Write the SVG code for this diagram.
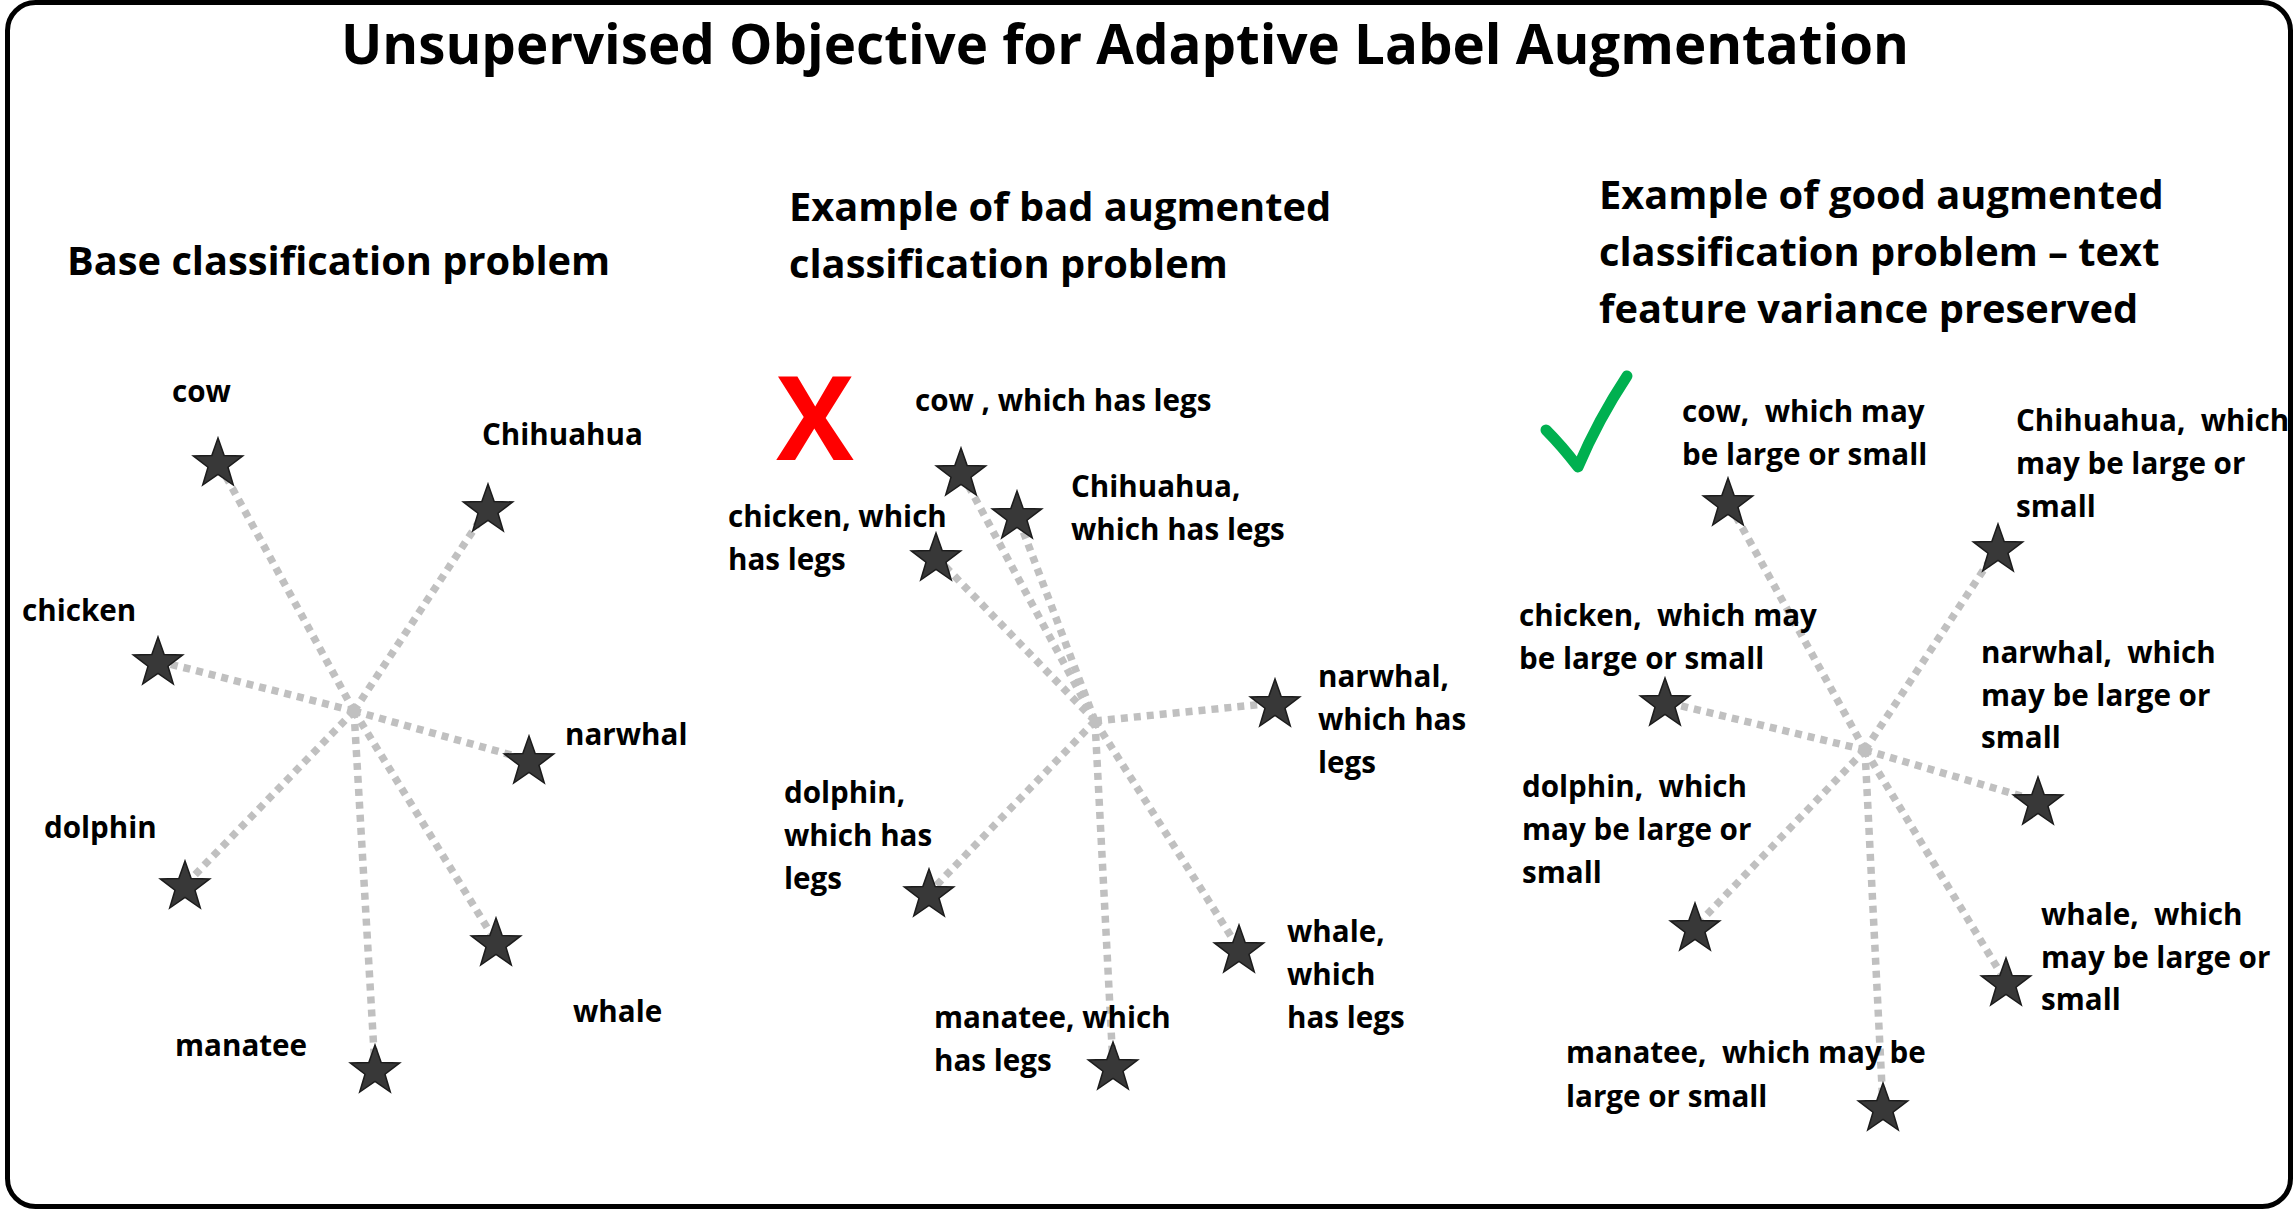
<svg xmlns="http://www.w3.org/2000/svg" xmlns:xlink="http://www.w3.org/1999/xlink" width="2294" height="1214" viewBox="0 0 2294 1214">
<defs>
<style>
text{font-family:"Open Sans","Liberation Sans",sans-serif;font-weight:bold;fill:#000}
.lbl{font-size:29.6px}
.hd{font-size:39.8px}
.ttl{font-size:55px}
.cn line{stroke:#c0c0c0;stroke-width:7.5;stroke-dasharray:7 6;fill:none}
.st{fill:#383838;stroke:#1c1c1c;stroke-width:1.5}
</style>
<path id="star" class="st" d="M0,-26 L6.17,-8.49 L24.73,-8.03 L9.99,3.24 L15.28,21.03 L0,10.5 L-15.28,21.03 L-9.99,3.24 L-24.73,-8.03 L-6.17,-8.49 Z"/>
</defs>
<rect x="7.5" y="2.5" width="2283" height="1204" rx="28" ry="28" fill="#fff" stroke="#000" stroke-width="5"/>
<text class="ttl" x="1125" y="64" text-anchor="middle" textLength="1568" lengthAdjust="spacingAndGlyphs">Unsupervised Objective for Adaptive Label Augmentation</text>
<g id="headings">
<text class="hd" x="67" y="275">Base classification problem</text>
<text class="hd" x="789" y="221">Example of bad augmented</text>
<text class="hd" x="789" y="278">classification problem</text>
<text class="hd" x="1599" y="209">Example of good augmented</text>
<text class="hd" x="1599" y="266">classification problem – text</text>
<text class="hd" x="1599" y="323">feature variance preserved</text>
</g>
<g id="marks">
<text x="815" y="460" text-anchor="middle" style="font-size:116px;fill:#ff0000">X</text>
<path d="M1546,430 Q1562,446 1578,467 Q1598,420 1627,376" fill="none" stroke="#00b050" stroke-width="11" stroke-linecap="round" stroke-linejoin="round"/>
</g>
<g id="connectors" class="cn">
<line x1="354" y1="711" x2="218" y2="462"/>
<line x1="354" y1="711" x2="488" y2="508"/>
<line x1="354" y1="711" x2="158" y2="661"/>
<line x1="354" y1="711" x2="529" y2="760"/>
<line x1="354" y1="711" x2="185" y2="885"/>
<line x1="354" y1="711" x2="496" y2="942"/>
<line x1="354" y1="711" x2="375" y2="1069"/>
<line x1="1095" y1="721" x2="961" y2="472"/>
<line x1="1095" y1="721" x2="1017" y2="515"/>
<line x1="1095" y1="721" x2="936" y2="557"/>
<line x1="1095" y1="721" x2="1275" y2="703"/>
<line x1="1095" y1="721" x2="929" y2="893"/>
<line x1="1095" y1="721" x2="1239" y2="949"/>
<line x1="1095" y1="721" x2="1113" y2="1066"/>
<line x1="1865" y1="750" x2="1728" y2="502"/>
<line x1="1865" y1="750" x2="1998" y2="548"/>
<line x1="1865" y1="750" x2="1665" y2="702"/>
<line x1="1865" y1="750" x2="2038" y2="801"/>
<line x1="1865" y1="750" x2="1695" y2="927"/>
<line x1="1865" y1="750" x2="2006" y2="982"/>
<line x1="1865" y1="750" x2="1883" y2="1107"/>
</g>
<g id="base-cow"><use xlink:href="#star" x="218" y="464"/><text class="lbl" x="172" y="402">cow</text></g>
<g id="base-chihuahua"><use xlink:href="#star" x="488" y="510"/><text class="lbl" x="482" y="445">Chihuahua</text></g>
<g id="base-chicken"><use xlink:href="#star" x="158" y="663"/><text class="lbl" x="22" y="621">chicken</text></g>
<g id="base-narwhal"><use xlink:href="#star" x="529" y="762"/><text class="lbl" x="565" y="745">narwhal</text></g>
<g id="base-dolphin"><use xlink:href="#star" x="185" y="887"/><text class="lbl" x="44" y="838">dolphin</text></g>
<g id="base-whale"><use xlink:href="#star" x="496" y="944"/><text class="lbl" x="573" y="1022">whale</text></g>
<g id="base-manatee"><use xlink:href="#star" x="375" y="1071"/><text class="lbl" x="175" y="1056">manatee</text></g>

<g id="bad-cow"><use xlink:href="#star" x="961" y="474"/><text class="lbl" x="915" y="411">cow , which has legs</text></g>
<g id="bad-chihuahua"><use xlink:href="#star" x="1017" y="517"/><text class="lbl" x="1071" y="497">Chihuahua,</text><text class="lbl" x="1071" y="540">which has legs</text></g>
<g id="bad-chicken"><use xlink:href="#star" x="936" y="559"/><text class="lbl" x="728" y="527">chicken, which</text><text class="lbl" x="728" y="570">has legs</text></g>
<g id="bad-narwhal"><use xlink:href="#star" x="1275" y="705"/><text class="lbl" x="1318" y="687">narwhal,</text><text class="lbl" x="1318" y="730">which has</text><text class="lbl" x="1318" y="773">legs</text></g>
<g id="bad-dolphin"><use xlink:href="#star" x="929" y="895"/><text class="lbl" x="784" y="803">dolphin,</text><text class="lbl" x="784" y="846">which has</text><text class="lbl" x="784" y="889">legs</text></g>
<g id="bad-whale"><use xlink:href="#star" x="1239" y="951"/><text class="lbl" x="1287" y="942">whale,</text><text class="lbl" x="1287" y="985">which</text><text class="lbl" x="1287" y="1028">has legs</text></g>
<g id="bad-manatee"><use xlink:href="#star" x="1113" y="1068"/><text class="lbl" x="934" y="1028">manatee, which</text><text class="lbl" x="934" y="1071">has legs</text></g>

<g id="good-cow"><use xlink:href="#star" x="1728" y="504"/><text class="lbl" x="1682" y="422" xml:space="preserve">cow,  which may</text><text class="lbl" x="1682" y="465">be large or small</text></g>
<g id="good-chihuahua"><use xlink:href="#star" x="1998" y="550"/><text class="lbl" x="2016" y="431" xml:space="preserve">Chihuahua,  which</text><text class="lbl" x="2016" y="474">may be large or</text><text class="lbl" x="2016" y="517">small</text></g>
<g id="good-chicken"><use xlink:href="#star" x="1665" y="704"/><text class="lbl" x="1519" y="626" xml:space="preserve">chicken,  which may</text><text class="lbl" x="1519" y="669">be large or small</text></g>
<g id="good-narwhal"><use xlink:href="#star" x="2038" y="803"/><text class="lbl" x="1981" y="663" xml:space="preserve">narwhal,  which</text><text class="lbl" x="1981" y="706">may be large or</text><text class="lbl" x="1981" y="748">small</text></g>
<g id="good-dolphin"><use xlink:href="#star" x="1695" y="929"/><text class="lbl" x="1522" y="797" xml:space="preserve">dolphin,  which</text><text class="lbl" x="1522" y="840">may be large or</text><text class="lbl" x="1522" y="883">small</text></g>
<g id="good-whale"><use xlink:href="#star" x="2006" y="984"/><text class="lbl" x="2041" y="925" xml:space="preserve">whale,  which</text><text class="lbl" x="2041" y="968">may be large or</text><text class="lbl" x="2041" y="1010">small</text></g>
<g id="good-manatee"><use xlink:href="#star" x="1883" y="1109"/><text class="lbl" x="1566" y="1063" xml:space="preserve">manatee,  which may be</text><text class="lbl" x="1566" y="1107">large or small</text></g>
</svg>
